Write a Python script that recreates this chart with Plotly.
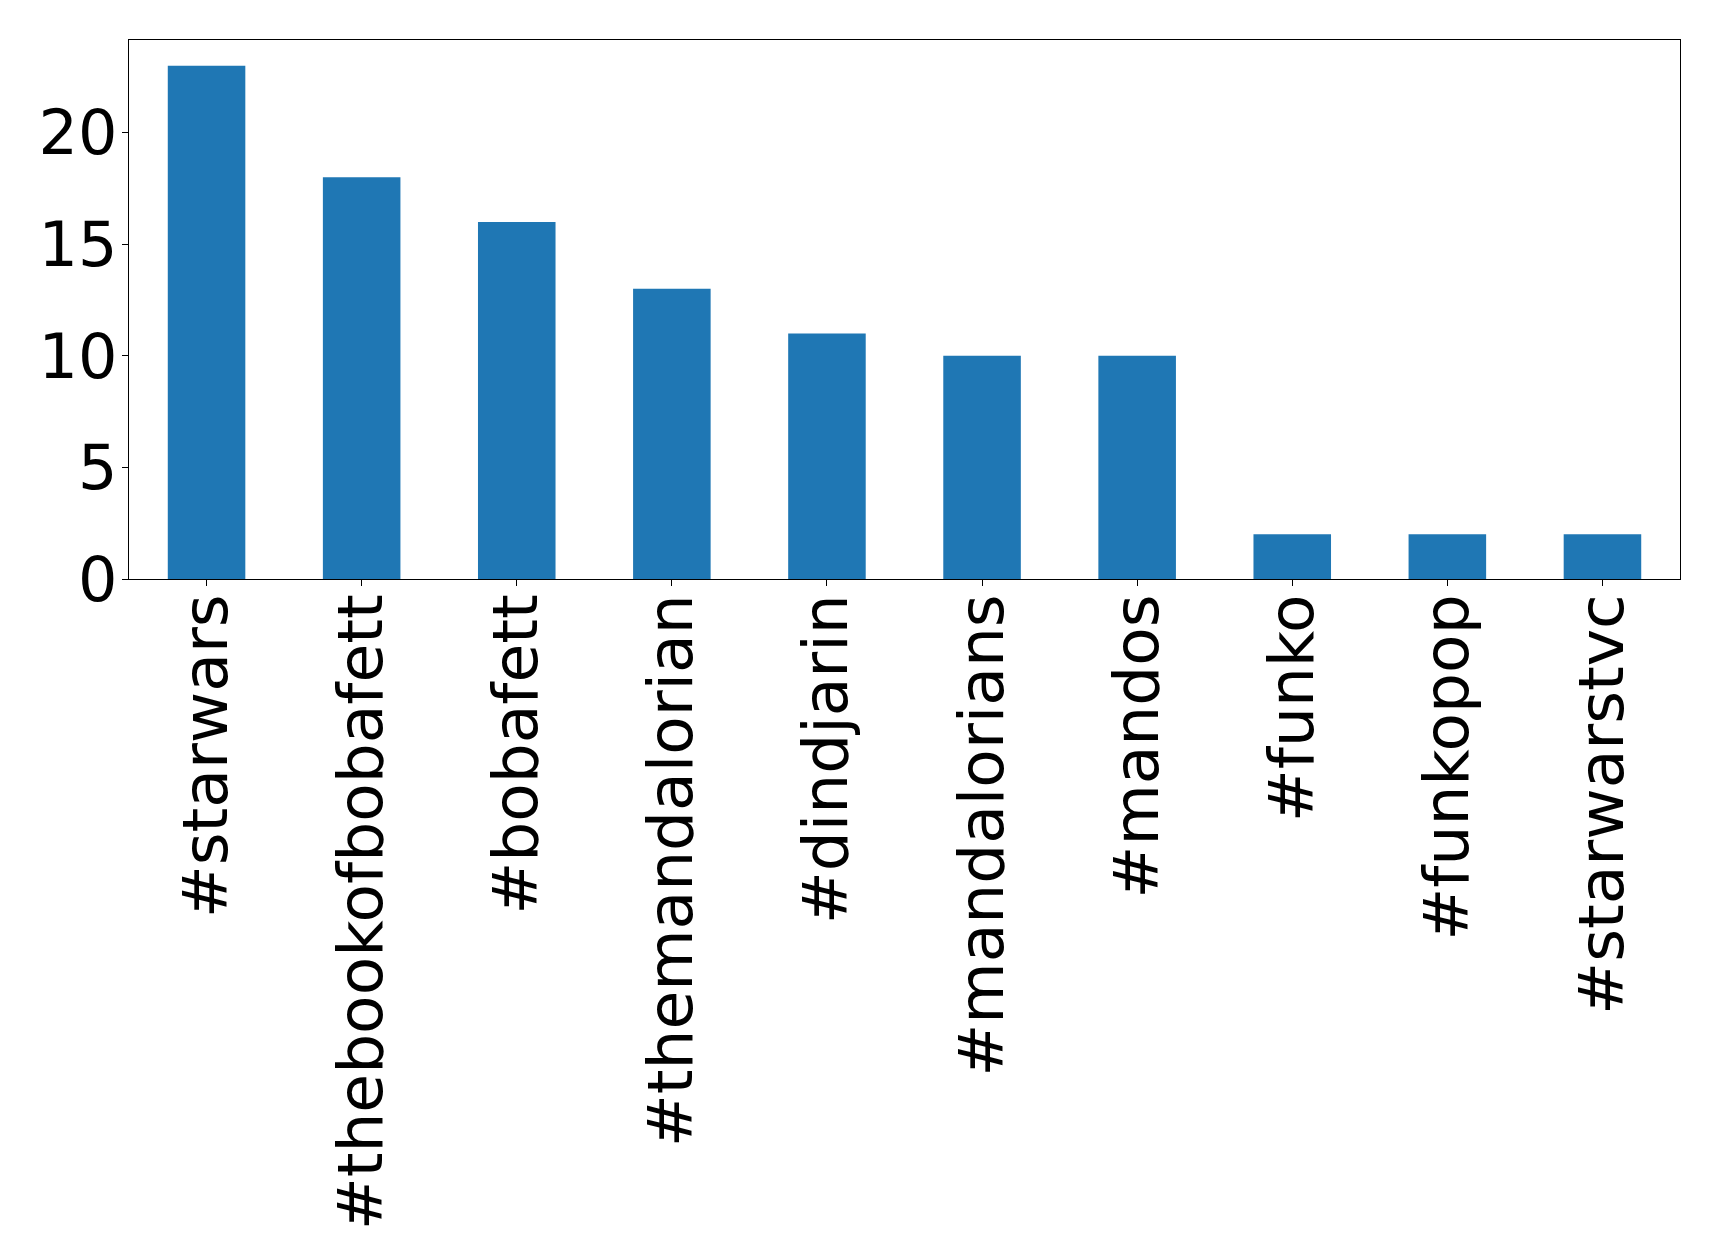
import plotly.graph_objects as go

# Hashtag counts
hashtags = ['#starwars', '#thebookofbobafett', '#bobafett', '#themandalorian', '#dindjarin',
            '#mandalorians', '#mandos', '#funko', '#funkopop', '#starwarstvc']
counts = [23, 18, 16, 13, 11, 10, 10, 2, 2, 2]
y_ticks = [0, 5, 10, 15, 20]

fig = go.Figure()
fig.add_trace(go.Bar(x=list(range(len(hashtags))), y=counts, width=0.5,
                     marker_color='#1f77b4', marker_line_width=0))

axis_style = dict(showline=True, linecolor='black', linewidth=1.3, mirror=True,
                  showgrid=False, zeroline=False, ticks='outside', ticklen=6,
                  tickwidth=1.3, tickcolor='black', automargin=False)

fig.update_layout(
    width=1719, height=1259,
    margin=dict(l=121, r=47, t=32, b=688),
    plot_bgcolor='white', paper_bgcolor='white',
    showlegend=False,
    xaxis=dict(range=[-0.5, 9.5], tickvals=list(range(len(hashtags))),
               ticktext=hashtags, tickangle=-90, ticklabelstandoff=-17,
               tickfont=dict(family='DejaVu Sans', size=63, color='black'), **axis_style),
    yaxis=dict(range=[0, 24.15], tickvals=y_ticks, ticklabelstandoff=-8,
               tickfont=dict(family='DejaVu Sans', size=62, color='black'), **axis_style),
)

fig.write_html("out.html")
